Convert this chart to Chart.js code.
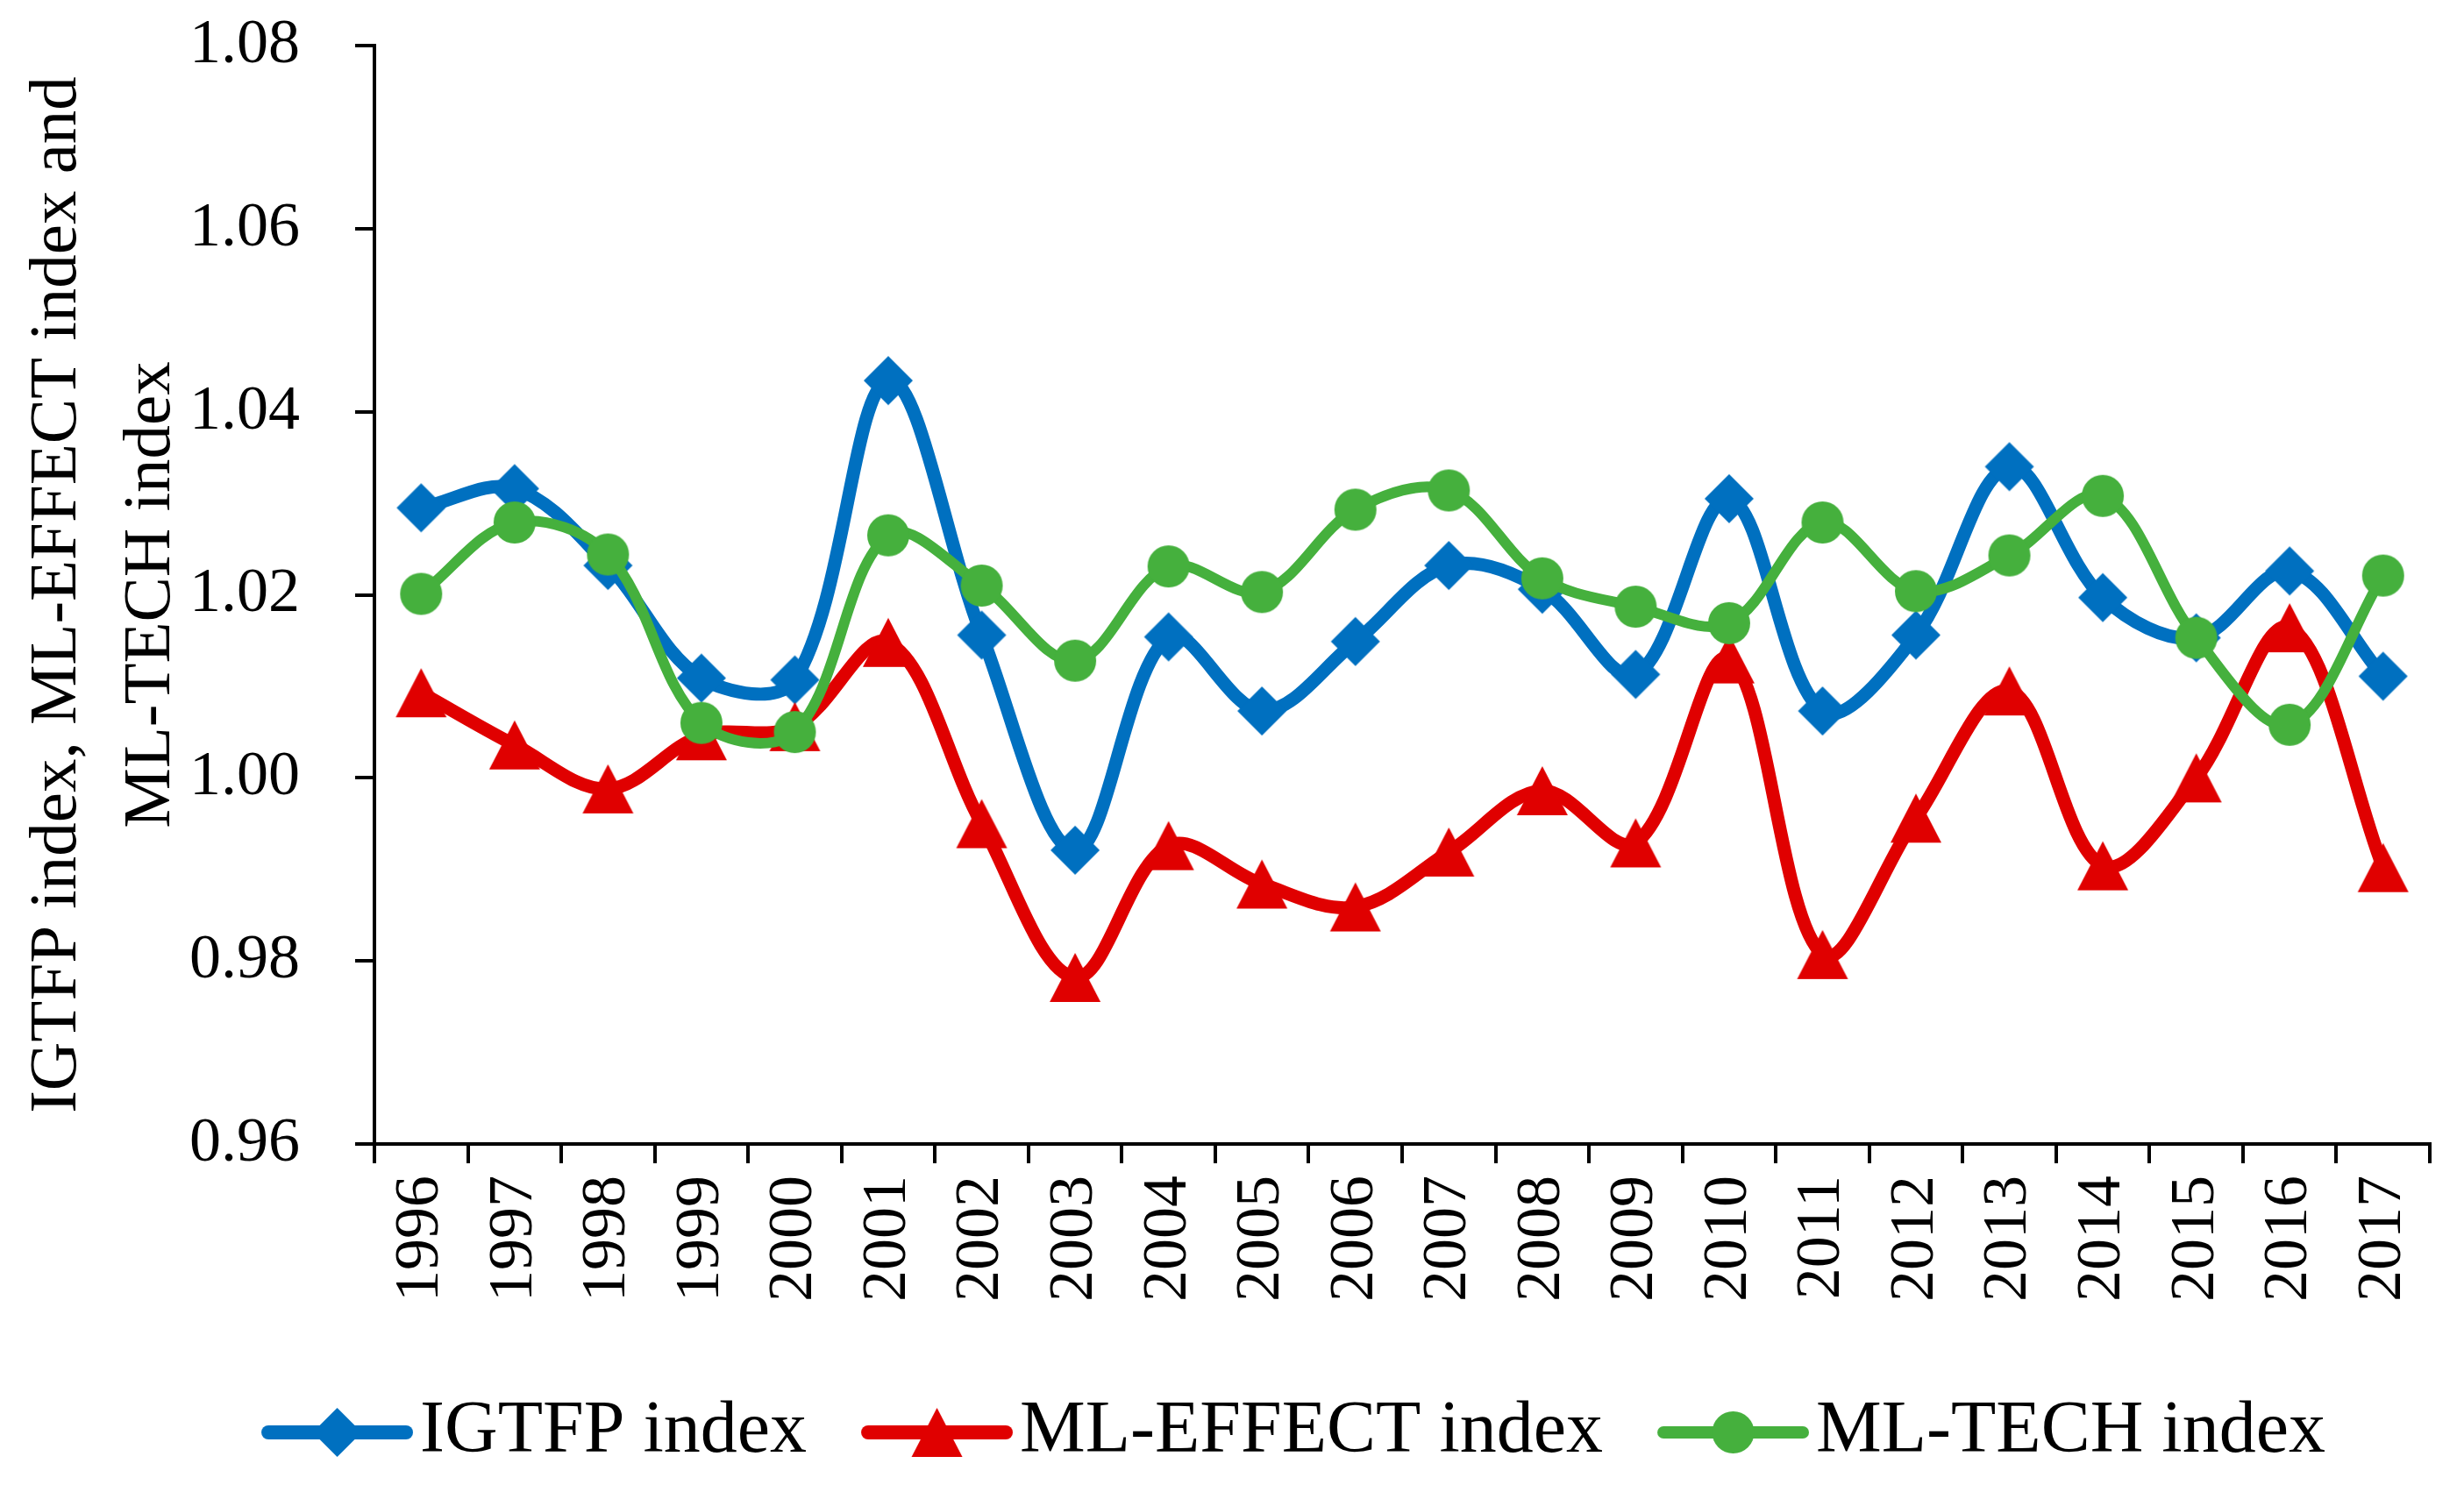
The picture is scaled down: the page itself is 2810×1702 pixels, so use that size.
<!DOCTYPE html>
<html>
<head>
<meta charset="utf-8">
<script src="https://cdn.jsdelivr.net/npm/chart.js@4.4.1/dist/chart.umd.min.js"></script>
<style>
  html, body { margin: 0; padding: 0; background: #fff; }
  #wrap { width: 2810px; height: 1702px; }
</style>
</head>
<body>
<div id="wrap"><canvas id="chart"></canvas></div>
<script>
// values
const years = ['1996','1997','1998','1999','2000','2001','2002','2003','2004','2005','2006',
               '2007','2008','2009','2010','2011','2012','2013','2014','2015','2016','2017'];
const igtfp    = [1.0295, 1.0316, 1.0232, 1.0109, 1.0107, 1.0434, 1.0156, 0.9921, 1.0154, 1.0073, 1.0149,
                  1.0232, 1.0206, 1.0113, 1.0305, 1.0073, 1.0156, 1.0340, 1.0197, 1.0153, 1.0226, 1.0111];
const mlEffect = [1.0093, 1.0036, 0.9988, 1.0046, 1.0056, 1.0148, 0.9950, 0.9782, 0.9926, 0.9884, 0.9859,
                  0.9919, 0.9986, 0.9929, 1.0130, 0.9807, 0.9956, 1.0095, 0.9904, 1.0000, 1.0164, 0.9902];
const mlTech   = [1.0201, 1.0279, 1.0244, 1.0060, 1.0050, 1.0265, 1.0210, 1.0128, 1.0231, 1.0203, 1.0293,
                  1.0314, 1.0218, 1.0187, 1.0169, 1.0279, 1.0204, 1.0243, 1.0308, 1.0153, 1.0058, 1.0221];
const seriesNames = ['IGTFP index', 'ML-EFFECT index', 'ML-TECH index'];
const yTicks = [0.96, 0.98, 1.00, 1.02, 1.04, 1.06, 1.08];

const BLUE = '#0070C0', RED = '#E00000', GREEN = '#45B03D';
const FONT = "'Liberation Serif', 'Times New Roman', serif";

function drawMarker(g, kind, cx, cy, color) {
  g.fillStyle = color;
  g.beginPath();
  if (kind === 'diamond') {
    g.moveTo(cx, cy - 28); g.lineTo(cx + 28, cy); g.lineTo(cx, cy + 28); g.lineTo(cx - 28, cy);
  } else if (kind === 'triangle') {
    g.moveTo(cx, cy - 28); g.lineTo(cx + 29, cy + 28); g.lineTo(cx - 29, cy + 28);
  } else {
    g.arc(cx, cy, 24, 0, Math.PI * 2);
  }
  g.closePath();
  g.fill();
}

function markerImg(kind, color) {
  const c = document.createElement('canvas');
  c.width = 62; c.height = 62;
  drawMarker(c.getContext('2d'), kind, 31, 31, color);
  return c;
}

// legend icon: line + marker, drawn in the right part of a wider canvas
const LEG_BOX = 193, LEG_IMG = 261, LEG_LINE = 173;
function legendImg(kind, color, lw) {
  const c = document.createElement('canvas');
  c.width = LEG_IMG; c.height = 64;
  const g = c.getContext('2d');
  const x0 = LEG_IMG - LEG_LINE;
  g.strokeStyle = color; g.lineWidth = lw; g.lineCap = 'round';
  g.beginPath(); g.moveTo(x0 + lw / 2, 32); g.lineTo(LEG_IMG - lw / 2, 32); g.stroke();
  drawMarker(g, kind, x0 + LEG_LINE / 2, 32, color);
  return c;
}

const kinds = ['diamond', 'triangle', 'circle'];
const colors = [BLUE, RED, GREEN];
const widths = [15, 15, 12];
const legendIcons = kinds.map((k, i) => legendImg(k, colors[i], i === 2 ? 14 : 16));

const datasets = [igtfp, mlEffect, mlTech].map((vals, i) => ({
  label: seriesNames[i],
  data: vals,
  borderColor: colors[i],
  backgroundColor: colors[i],
  borderWidth: widths[i],
  tension: 0.35,
  pointStyle: markerImg(kinds[i], colors[i]),
  pointRadius: 24,
  order: 3 - i
}));

// nudge the legend row to where the original sits
const legendShift = {
  id: 'legendShift',
  afterLayout(chart) {
    chart.legend.left += 56;
    chart.legend.right += 56;
  }
};

new Chart(document.getElementById('chart'), {
  type: 'line',
  data: { labels: years, datasets },
  plugins: [legendShift],
  options: {
    responsive: true,
    maintainAspectRatio: false,
    devicePixelRatio: 1,
    animation: false,
    layout: { padding: { top: 52, right: 26, bottom: 16, left: 0 } },
    plugins: {
      tooltip: { enabled: false },
      legend: {
        position: 'bottom',
        labels: {
          usePointStyle: true,
          pointStyleWidth: LEG_BOX,
          padding: 8,
          color: '#000',
          font: { family: FONT, size: 84 },
          generateLabels: chart => chart.data.datasets.map((d, i) => ({
            text: d.label, pointStyle: legendIcons[i], datasetIndex: i,
            fontColor: '#000', fillStyle: 'rgba(0,0,0,0)', strokeStyle: 'rgba(0,0,0,0)',
            lineWidth: 0, hidden: false
          }))
        }
      }
    },
    scales: {
      x: {
        type: 'category',
        offset: true,
        grid: { offset: true, drawOnChartArea: false, drawTicks: true, tickLength: 22, color: '#000', lineWidth: 4 },
        border: { display: true, color: '#000', width: 4 },
        ticks: { color: '#000', font: { family: FONT, size: 72 }, maxRotation: 90, minRotation: 90, padding: 14, autoSkip: false },
        afterFit: s => { s.height = 279; s.paddingLeft = 0; s.paddingRight = 0; }
      },
      y: {
        min: yTicks[0],
        max: yTicks[yTicks.length - 1],
        afterBuildTicks: s => { s.ticks = yTicks.map(v => ({ value: v })); },
        afterFit: s => { s.width = 427; s.paddingTop = 0; s.paddingBottom = 0; },
        grid: { drawOnChartArea: false, drawTicks: true, tickLength: 22, color: '#000', lineWidth: 4 },
        border: { display: true, color: '#000', width: 4 },
        ticks: { color: '#000', font: { family: FONT, size: 72 }, padding: 63, callback: v => Number(v).toFixed(2) },
        title: {
          display: true,
          text: ['IGTFP index, ML-EFFECT index and', 'ML-TECH index'],
          color: '#000',
          font: { family: FONT, size: 77, lineHeight: 1.38 },
          padding: { top: 13, bottom: 0 }
        }
      }
    }
  }
});
</script>
</body>
</html>
